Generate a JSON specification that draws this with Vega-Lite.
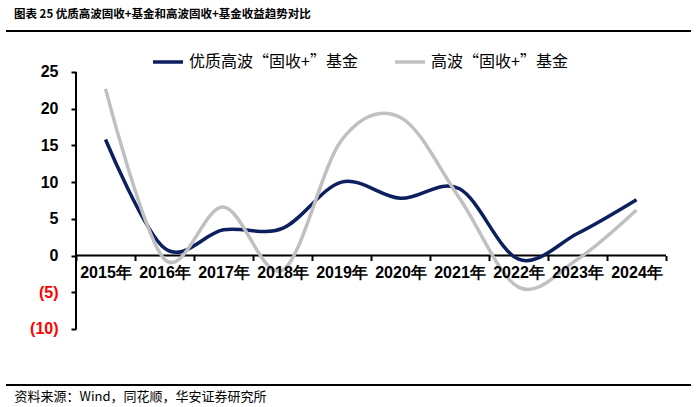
{
  "$schema": "https://vega.github.io/schema/vega-lite/v6.json",
  "padding": {"left": 5, "top": 8, "right": 10, "bottom": 4},
  "background": "white",
  "width": 685,
  "height": 354,
  "config": {"view": {"stroke": null}, "font": "Noto Sans CJK SC"},
  "title": {"text": "图表 25 优质高波固收+基金和高波固收+基金收益趋势对比", "anchor": "start", "frame": "group", "fontSize": 11.5, "fontWeight": "bold", "font": "Noto Sans CJK SC", "offset": 10, "dx": 8, "color": "black"},
  "resolve": {"scale": {"x": "independent"}, "axis": {"x": "independent"}},
  "layer": [
    {
      "data": {"values": [{"element": "header rule"}]},
      "mark": {"type": "rule", "stroke": "black", "strokeWidth": 2},
      "encoding": {
        "x": {"datum": 0, "type": "quantitative", "scale": {"domain": [0, 1], "nice": false, "zero": false}, "axis": null},
        "x2": {"datum": 1},
        "y": {"datum": 30.58, "type": "quantitative"}
      }
    },
    {
      "data": {"values": [{"element": "footer rule"}]},
      "mark": {"type": "rule", "stroke": "black", "strokeWidth": 2},
      "encoding": {
        "x": {"datum": 0, "type": "quantitative", "scale": {"domain": [0, 1], "nice": false, "zero": false}, "axis": null},
        "x2": {"datum": 1},
        "y": {"datum": -17.63, "type": "quantitative"}
      }
    },
    {
      "resolve": {"axis": {"x": "independent"}},
      "layer": [
        {
          "data": {"values": [{"element": "y-axis line"}]},
          "mark": {"type": "rule", "stroke": "black", "strokeWidth": 2},
          "encoding": {
            "x": {"datum": "2015年", "type": "nominal", "bandPosition": 0, "axis": null},
            "y": {"datum": -10, "type": "quantitative"},
            "y2": {"datum": 25}
          }
        },
        {
          "data": {"values": [{"element": "zero line"}]},
          "mark": {"type": "rule", "stroke": "black", "strokeWidth": 2},
          "encoding": {
            "x": {"datum": "2015年", "type": "nominal", "bandPosition": 0,
              "axis": {"orient": "bottom", "labels": false, "ticks": false, "domain": false, "title": "资料来源：Wind，同花顺，华安证券研究所", "titleAnchor": "start", "titleAlign": "left", "titleX": 8, "titlePadding": 5, "titleFontSize": 13, "titleFontWeight": "normal", "titleFont": "Noto Sans CJK SC", "titleColor": "black"}},
            "x2": {"datum": "2024年", "bandPosition": 1},
            "y": {"datum": 0, "type": "quantitative"}
          }
        },
        {
          "data": {"values": [
            {"year": "2015年", "series": "优质高波“固收+”基金", "value": 15.8},
            {"year": "2016年", "series": "优质高波“固收+”基金", "value": 1.0},
            {"year": "2017年", "series": "优质高波“固收+”基金", "value": 3.5},
            {"year": "2018年", "series": "优质高波“固收+”基金", "value": 3.7},
            {"year": "2019年", "series": "优质高波“固收+”基金", "value": 10.0},
            {"year": "2020年", "series": "优质高波“固收+”基金", "value": 7.8},
            {"year": "2021年", "series": "优质高波“固收+”基金", "value": 9.1},
            {"year": "2022年", "series": "优质高波“固收+”基金", "value": -0.5},
            {"year": "2023年", "series": "优质高波“固收+”基金", "value": 3.0},
            {"year": "2024年", "series": "优质高波“固收+”基金", "value": 7.6},
            {"year": "2015年", "series": "高波“固收+”基金", "value": 22.7},
            {"year": "2016年", "series": "高波“固收+”基金", "value": -0.5},
            {"year": "2017年", "series": "高波“固收+”基金", "value": 6.6},
            {"year": "2018年", "series": "高波“固收+”基金", "value": -2.0},
            {"year": "2019年", "series": "高波“固收+”基金", "value": 15.7},
            {"year": "2020年", "series": "高波“固收+”基金", "value": 18.8},
            {"year": "2021年", "series": "高波“固收+”基金", "value": 7.8},
            {"year": "2022年", "series": "高波“固收+”基金", "value": -4.3},
            {"year": "2023年", "series": "高波“固收+”基金", "value": -0.5},
            {"year": "2024年", "series": "高波“固收+”基金", "value": 6.2}
          ]},
          "mark": {"type": "line", "interpolate": "cardinal", "strokeWidth": 3.5},
          "encoding": {
            "x": {
              "field": "year", "type": "nominal", "sort": null,
              "scale": {"type": "band", "domain": ["2015年", "2016年", "2017年", "2018年", "2019年", "2020年", "2021年", "2022年", "2023年", "2024年"], "paddingInner": 0, "paddingOuter": 0.805, "align": 0.737},
              "bandPosition": 0.5,
              "axis": {"orient": "bottom", "title": null, "labelAngle": 0, "offset": -129.5, "domain": false, "tickBand": "extent", "tickColor": "black", "tickSize": 5, "tickWidth": 2, "labelFontSize": 16, "labelFontWeight": "bold", "labelFont": "Liberation Sans", "labelColor": "black", "labelPadding": 4, "zindex": 1}
            },
            "y": {
              "field": "value", "type": "quantitative",
              "scale": {"domain": [-17.63, 30.58], "nice": false, "zero": false},
              "axis": {"title": null, "offset": -70, "values": [-10, -5, 0, 5, 10, 15, 20, 25], "grid": false, "domain": false, "labelExpr": "datum.value < 0 ? '(' + (-datum.value) + ')' : datum.label", "labelColor": {"condition": {"test": "datum.value < 0", "value": "#ff0000"}, "value": "black"}, "labelFont": "Liberation Sans", "labelFontSize": 16, "labelFontWeight": "bold", "tickColor": "black", "tickSize": 5, "tickWidth": 2, "labelPadding": 13}
            },
            "color": {
              "field": "series", "type": "nominal",
              "scale": {"domain": ["优质高波“固收+”基金", "高波“固收+”基金"], "range": ["#0c1f5f", "#c0c0c0"]},
              "legend": {"orient": "none", "legendX": 145, "legendY": 14, "padding": 0, "direction": "horizontal", "title": null, "symbolType": "stroke", "symbolStrokeWidth": 3.5, "symbolSize": 900, "labelFontSize": 16, "labelLimit": 400, "labelFont": "Noto Sans CJK SC", "labelColor": "black", "columnPadding": 30}
            }
          }
        }
      ]
    }
  ]
}
